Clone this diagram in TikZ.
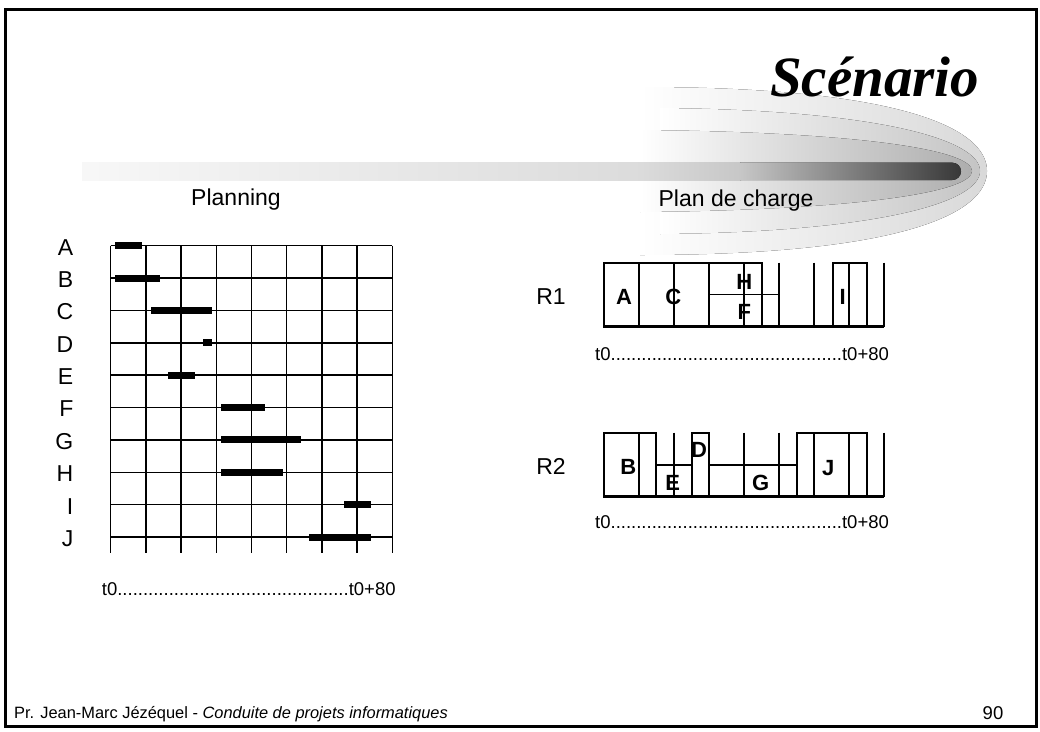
\documentclass[tikz,border=0pt]{standalone}
\usepackage{fontspec}
\setmainfont{Liberation Sans}
\newfontfamily\titlefont{Liberation Serif}
\begin{document}
\begin{tikzpicture}[x=1pt,y=-1pt,
  txt/.style={font=\fontsize{23}{27}\selectfont, inner sep=0pt},
  boxlbl/.style={font=\fontsize{22}{26}\selectfont\bfseries, inner sep=0pt},
  ticktxt/.style={font=\fontsize{18.5}{22}\selectfont, inner sep=0pt, anchor=base west},
  gridln/.style={line width=1.5pt},
  chartbox/.style={draw, line width=1.7pt},
  ganttbar/.style={line width=7pt},
  baseln/.style={line width=2.6pt}]
\useasboundingbox (0,0) rectangle (1040,731);

% ---- decorative swoosh ----
\fill[left color=white, right color=black!15]
  (640,87) .. controls (900,87) and (987,128) .. (987,171)
  .. controls (987,214) and (900,255) .. (640,255) -- cycle;
\fill[left color=white, right color=black!23]
  (660,108) .. controls (880,110) and (980,140) .. (980,171)
  .. controls (980,202) and (880,232) .. (660,234) -- cycle;
\fill[left color=white, right color=black!32]
  (640,130) .. controls (860,132) and (972,150) .. (972,171)
  .. controls (972,192) and (860,210) .. (640,212) -- cycle;
\fill[left color=black!3, right color=black!14] (82,162.7) rectangle (641,180);
\fill[left color=black!14, right color=black!22] (640,162.7) rectangle (741,180);
\fill[left color=black!22, right color=black!78]
  (740,180) -- (740,162.7) [rounded corners=8.6pt] -- (961,162.7) -- (961,180) [sharp corners] -- cycle;

% ---- title and headings ----
\node[inner sep=0pt, anchor=base west, font=\fontsize{57}{62}\titlefont\bfseries\itshape] (title) at (770,96.7) {Scénario};
\node[txt, anchor=base] (planning) at (236,205) {Planning};
\node[txt, anchor=base] (plancharge) at (736,206) {Plan de charge};

% ---- planning grid ----
\foreach \k in {0,...,9} {
  \draw[gridln] (110.7,245.7+32.38*\k) -- (392.3,245.7+32.38*\k);
}
\foreach \i in {0,...,8} {
  \draw[gridln] (110.7+35.2*\i,245.7) -- (110.7+35.2*\i,552.7);
}
\foreach \l [count=\c from 0] in {A,B,C,D,E,F,G,H,I,J} {
  \node[txt, anchor=base east] (row\l) at (73.5,245.7+32.38*\c+9.3) {\l};
}
\foreach \a/\b/\k in {115/142.3/0, 115/160/1, 151/212.3/2, 203.3/212.3/3, 168.3/195/4,
                      221/265.3/5, 221/300.7/6, 221/282.7/7, 344/370.7/8, 309/370.7/9} {
  \draw[ganttbar] (\a,245.7+32.38*\k) -- (\b,245.7+32.38*\k);
}
\node[ticktxt] (tp) at (101.7,595) {t0.............................................t0+80};

% ---- R1 ----
\node[txt] (r1) at (551,296.7) {R1};
\foreach \i in {0,...,8} {
  \draw[gridln] (604+35*\i,262.7) -- (604+35*\i,326.7);
}
\path[chartbox] (604,262.7) rectangle (639,326.7);
\path[chartbox] (639,262.7) rectangle (709,326.7);
\path[chartbox] (709,262.7) rectangle (761.7,294.5);
\path[chartbox] (709,294.5) rectangle (761.7,326.7);
\path[chartbox] (761.7,294.5) rectangle (779,326.7);
\path[chartbox] (832.7,262.7) rectangle (866.7,326.7);
\draw[baseln] (604,326.7) -- (884,326.7);
\node[boxlbl] (bA) at (624,296.7) {A};
\node[boxlbl] (bC) at (673.3,296.7) {C};
\node[boxlbl] (bH) at (744.3,281.7) {H};
\node[boxlbl] (bF) at (744.3,311.7) {F};
\node[boxlbl] (bI) at (842.7,296.7) {I};
\node[ticktxt] (t1) at (595,360) {t0.............................................t0+80};

% ---- R2 ----
\node[txt] (r2) at (551,466) {R2};
\foreach \i in {0,...,8} {
  \draw[gridln] (604+35*\i,432.7) -- (604+35*\i,496.7);
}
\path[chartbox] (604,432.7) rectangle (656,496.7);
\path[chartbox] (656,465) rectangle (691.7,496.7);
\path[chartbox] (691.7,432.7) rectangle (709,496.7);
\path[chartbox] (709,465) rectangle (797.3,496.7);
\path[chartbox] (797.3,432.7) rectangle (866.7,496.7);
\draw[baseln] (604,496.7) -- (884,496.7);
\node[boxlbl] (bB) at (628.3,466.7) {B};
\node[boxlbl] (bE) at (672.7,482.7) {E};
\node[boxlbl] (bD) at (699,450) {D};
\node[boxlbl] (bG) at (760.7,482.7) {G};
\node[boxlbl] (bJ) at (828.3,468.3) {J};
\node[ticktxt] (t2) at (595,528.3) {t0.............................................t0+80};

% ---- footer and frame ----
\node[inner sep=0pt, anchor=base west, font=\fontsize{16.4}{20}\selectfont] (foot) at (14,718.3)
  {Pr. Jean-Marc Jézéquel - \textit{Conduite de projets informatiques}};
\node[inner sep=0pt, anchor=base west, font=\fontsize{18.5}{21}\selectfont] (page) at (982.5,719) {90};
\draw[line width=2.5pt] (5.3,9.3) rectangle (1036.5,726.5);
\end{tikzpicture}
\end{document}
